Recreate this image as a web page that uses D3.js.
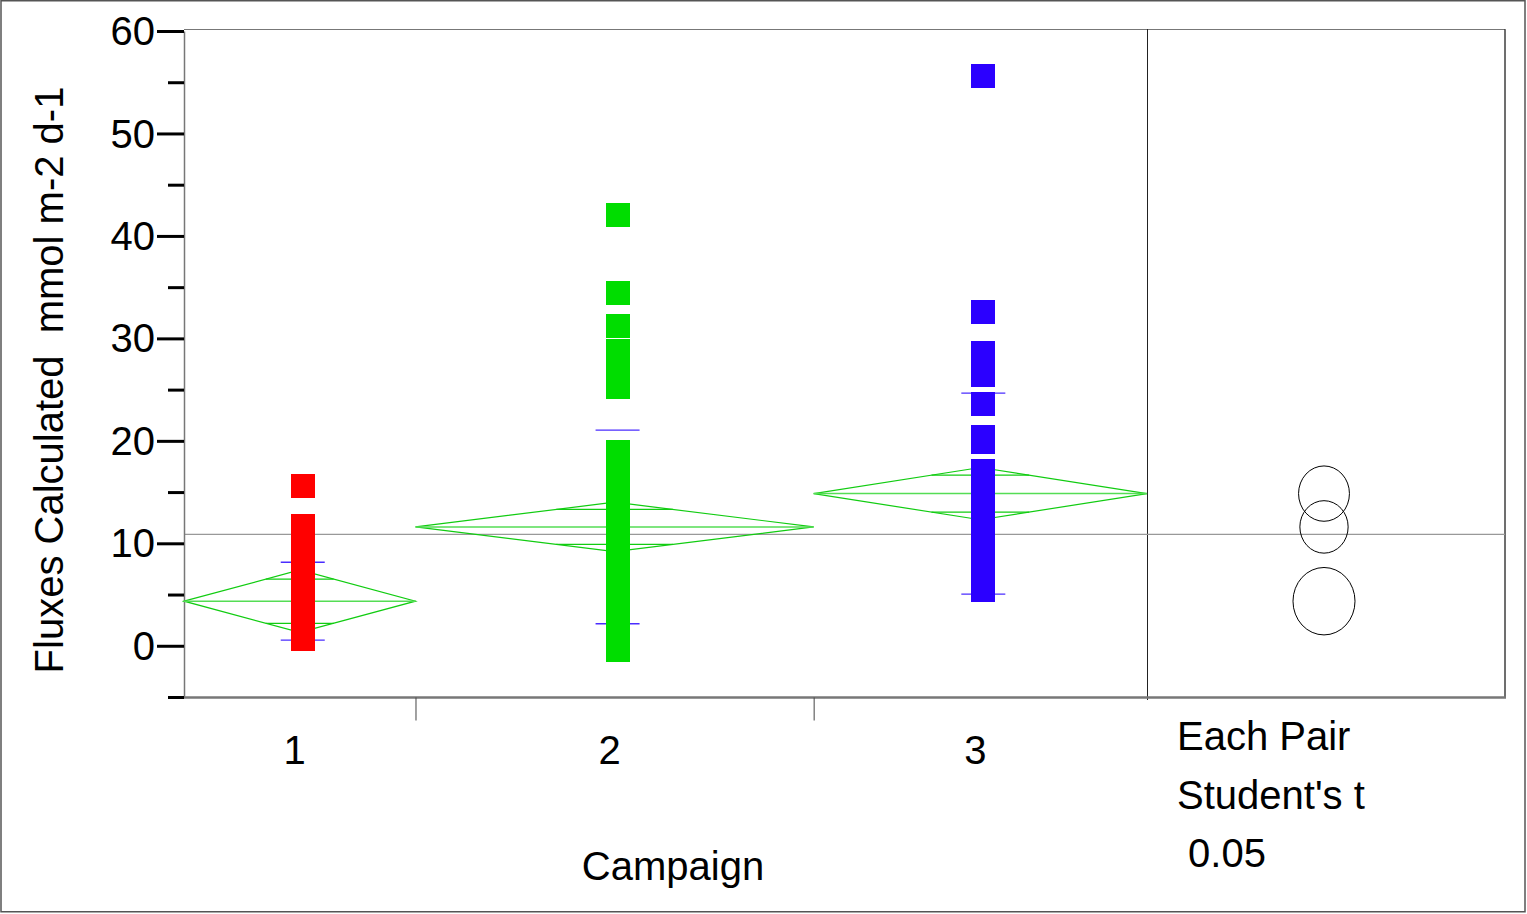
<!DOCTYPE html>
<html>
<head>
<meta charset="utf-8">
<script src="https://cdn.jsdelivr.net/npm/d3@7"></script>
<style>
  body { margin: 0; background: #fff; }
  text { font-family: "Liberation Sans", Arial, sans-serif; fill: #000; }
</style>
</head>
<body>
<svg id="chart" width="1527" height="914"></svg>
<script>
// campaigns and raw flux values (mmol m-2 d-1)
const campaigns = ["1", "2", "3"];
const campaign1 = [0.7, 0.8, 1.0, 1.2, 1.5, 1.8, 2.0, 2.3, 2.6, 2.9, 3.1, 3.4, 3.7,
  4.0, 4.3, 4.7, 5.0, 5.5, 6.0, 6.8, 7.7, 8.9, 10.3, 11.7, 15.6];
const campaign2 = [-0.4, 0.2, 0.8, 1.3, 1.9, 2.4, 2.9, 3.4, 3.9, 4.3, 4.8, 5.2, 5.6,
  6.0, 6.4, 6.8, 7.2, 7.6, 8.0, 8.4, 8.8, 9.2, 9.6, 10.0, 10.4, 10.9, 11.4, 11.9,
  12.5, 13.1, 13.8, 14.6, 15.5, 16.5, 17.7, 18.9, 25.3, 26.4, 27.6, 28.8, 31.2, 34.4, 42.0];
const campaign3 = [5.4, 5.9, 6.4, 6.9, 7.4, 7.9, 8.3, 8.7, 9.1, 9.5, 9.9, 10.3, 10.7,
  11.1, 11.5, 11.9, 12.3, 12.7, 13.1, 13.5, 13.9, 14.3, 14.8, 15.3, 15.8, 16.2, 16.7,
  17.1, 19.9, 20.4, 23.6, 26.4, 27.5, 28.6, 32.6, 55.6];

// summary stats shown on the plot
const groupMeans = [4.35, 11.6, 14.85];
const ciHalf = [3.05, 2.41, 2.55];      // 95% means diamonds
const stdDev = [3.8, 9.45, 9.8];        // std dev lines
const circleRadius = [3.29, 2.56, 2.7]; // comparison circles
const grandMean = 10.87;
const groupColors = ["#ff0000", "#00dd00", "#2b00ff"];

const yTicks = [0, 10, 20, 30, 40, 50, 60];
const yMinorTicks = [-5, 5, 15, 25, 35, 45, 55];

const svg = d3.select("#chart");
const groups = [campaign1, campaign2, campaign3];
const counts = groups.map((g) => g.length);
const cum = [0];
counts.forEach((n, i) => cum.push(cum[i] + n));

const yScale = d3.scaleLinear().domain([-5, 60]).range([697, 31]);
const xScale = d3.scaleLinear().domain([0, d3.sum(counts)]).range([184, 1147]);
const panelRight = 1505;
const circleX = 1324;

// outer frame
svg.append("rect")
  .attr("x", 1).attr("y", 0.75).attr("width", 1524).attr("height", 911)
  .attr("fill", "none").attr("stroke", "#555").attr("stroke-width", 1.5);

// plot frame
svg.append("path")
  .attr("d", `M184,29.5H${panelRight}V697`)
  .attr("fill", "none").attr("stroke", "#777").attr("stroke-width", 1);
svg.append("line")
  .attr("x1", panelRight).attr("x2", panelRight).attr("y1", 29).attr("y2", 697)
  .attr("stroke", "#222").attr("stroke-width", 1);
svg.append("line")
  .attr("x1", 1147.5).attr("x2", 1147.5).attr("y1", 29).attr("y2", 700)
  .attr("stroke", "#222").attr("stroke-width", 1);

// grand mean
svg.append("line")
  .attr("x1", 184).attr("x2", panelRight)
  .attr("y1", yScale(grandMean)).attr("y2", yScale(grandMean))
  .attr("stroke", "#999").attr("stroke-width", 1.2);

// y axis
const yAxis = svg.append("g")
  .attr("transform", "translate(184,0)")
  .call(d3.axisLeft(yScale).tickValues(yTicks).tickSize(27).tickSizeOuter(0).tickPadding(2));
yAxis.select(".domain").attr("stroke", "#777").attr("stroke-width", 1.5);
yAxis.selectAll(".tick line").attr("stroke", "#000").attr("stroke-width", 3);
yAxis.selectAll(".tick text").attr("font-size", 40).attr("dy", "0.34em")
  .style("font-family", '"Liberation Sans", Arial, sans-serif');

const yMinor = svg.append("g")
  .attr("transform", "translate(184,0)")
  .call(d3.axisLeft(yScale).tickValues(yMinorTicks).tickSize(16).tickFormat(""));
yMinor.select(".domain").remove();
yMinor.selectAll(".tick line").attr("stroke", "#000").attr("stroke-width", 3);

// x axis
const xAxis = svg.append("g")
  .attr("transform", "translate(0,697.5)")
  .call(d3.axisBottom(xScale).tickValues(cum.slice(1, -1)).tickSize(23).tickFormat(""));
xAxis.select(".domain").attr("d", `M184,0H${panelRight + 1}`)
  .attr("stroke", "#777").attr("stroke-width", 2.5);
xAxis.selectAll(".tick line").attr("stroke", "#444").attr("stroke-width", 1);

svg.selectAll(".xlabel")
  .data(campaigns)
  .join("text")
  .attr("class", "xlabel")
  .attr("x", (d, i) => xScale((cum[i] + cum[i + 1]) / 2) - 5)
  .attr("y", 764)
  .attr("text-anchor", "middle")
  .attr("font-size", 40)
  .text((d) => d);

svg.append("text")
  .attr("x", 673).attr("y", 880)
  .attr("text-anchor", "middle").attr("font-size", 40)
  .text("Campaign");

svg.append("text")
  .attr("transform", "translate(63,380) rotate(-90)")
  .attr("text-anchor", "middle").attr("font-size", 40)
  .style("white-space", "pre")
  .text("Fluxes Calculated  mmol m-2 d-1");

// means diamonds
const k = 1 - 1 / Math.SQRT2;
groups.forEach((g, i) => {
  const x0 = xScale(cum[i]);
  const x1 = xScale(cum[i + 1]);
  const xc = (x0 + x1) / 2;
  const m = groupMeans[i];
  const h = ciHalf[i];
  const dg = svg.append("g").attr("fill", "none").attr("stroke", "#11cc11").attr("stroke-width", 1.2);
  dg.append("path")
    .attr("d", `M${x0},${yScale(m)}L${xc},${yScale(m + h)}L${x1},${yScale(m)}L${xc},${yScale(m - h)}Z`);
  dg.append("line")
    .attr("x1", x0).attr("x2", x1).attr("y1", yScale(m)).attr("y2", yScale(m))
    .attr("stroke", "#55dd55").attr("stroke-width", 1.5);
  const half = (x1 - x0) / 2 * k;
  [m + h / Math.SQRT2, m - h / Math.SQRT2].forEach((v) => {
    dg.append("line")
      .attr("x1", xc - half).attr("x2", xc + half)
      .attr("y1", yScale(v)).attr("y2", yScale(v));
  });

  // std dev lines
  const px = xc + 3;
  [m + stdDev[i], m - stdDev[i]].forEach((v) => {
    svg.append("line")
      .attr("x1", px - 22).attr("x2", px + 22)
      .attr("y1", yScale(v)).attr("y2", yScale(v))
      .attr("stroke", "#4a2cff").attr("stroke-width", 1.3);
  });
});

// points
const size = 24;
groups.forEach((g, i) => {
  const px = (xScale(cum[i]) + xScale(cum[i + 1])) / 2 + 3;
  svg.append("g")
    .attr("shape-rendering", "crispEdges")
    .selectAll("rect")
    .data(g)
    .join("rect")
    .attr("x", px - size / 2)
    .attr("y", (d) => yScale(d) - size / 2)
    .attr("width", size)
    .attr("height", size)
    .attr("fill", groupColors[i]);
});

// comparison circles
svg.append("g")
  .selectAll("ellipse")
  .data(groupMeans)
  .join("ellipse")
  .attr("cx", circleX)
  .attr("cy", (d) => yScale(d))
  .attr("ry", (d, i) => yScale(0) - yScale(circleRadius[i]))
  .attr("rx", (d, i) => (yScale(0) - yScale(circleRadius[i])) * 0.92)
  .attr("fill", "none")
  .attr("stroke", "#000")
  .attr("stroke-width", 1);

// test note
const notes = ["Each Pair", "Student's t", " 0.05"];
svg.selectAll(".note")
  .data(notes)
  .join("text")
  .attr("class", "note")
  .attr("x", 1177)
  .attr("y", (d, i) => 750 + i * 58.5)
  .attr("font-size", 40)
  .style("white-space", "pre")
  .text((d) => d);
</script>
</body>
</html>
